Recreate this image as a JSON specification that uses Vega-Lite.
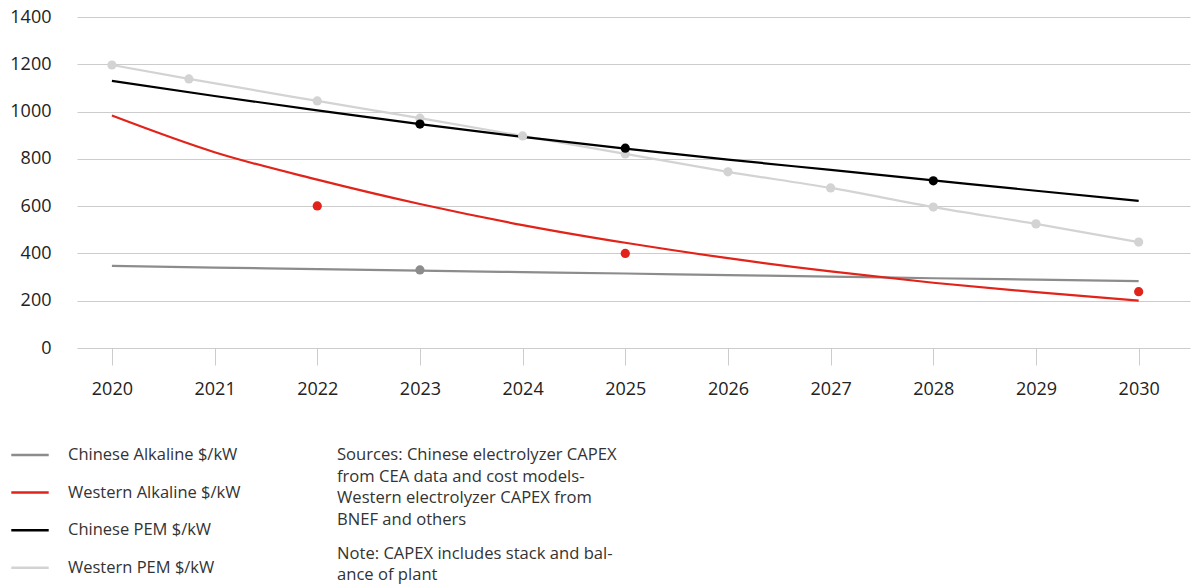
{
  "$schema": "https://vega.github.io/schema/vega-lite/v6.json",
  "width": 1113,
  "height": 331,
  "autosize": {"type": "none"},
  "padding": {"left": 77, "top": 17, "right": 7, "bottom": 238},
  "background": "white",
  "config": {
    "view": {"stroke": null},
    "font": "Open Sans",
    "legend": {"labelFontSize": 16.5, "labelColor": "#333333", "rowPadding": 8.6, "labelOffset": 18, "symbolStrokeWidth": 2.5, "labelLimit": 400}
  },
  "title": {
    "text": ["Sources: Chinese electrolyzer CAPEX", "from CEA data and cost models-", "Western electrolyzer CAPEX from", "BNEF and others"],
    "subtitle": ["Note: CAPEX includes stack and bal-", "ance of plant"],
    "orient": "bottom",
    "anchor": "start",
    "frame": "group",
    "dx": 260,
    "offset": -130,
    "fontSize": 16.6,
    "fontWeight": "normal",
    "color": "#333333",
    "lineHeight": 21.5,
    "baseline": "top",
    "subtitleFontSize": 16.6,
    "subtitleFont": "Open Sans",
    "subtitleFontWeight": "normal",
    "subtitleColor": "#333333",
    "subtitleLineHeight": 21.2,
    "subtitlePadding": 18
  },
  "datasets": {
    "lines": [
      {"series": "Western PEM $/kW", "year": 2020, "value": 1197},
      {"series": "Western PEM $/kW", "year": 2020.75, "value": 1138},
      {"series": "Western PEM $/kW", "year": 2022, "value": 1045},
      {"series": "Western PEM $/kW", "year": 2023, "value": 972},
      {"series": "Western PEM $/kW", "year": 2024, "value": 897},
      {"series": "Western PEM $/kW", "year": 2025, "value": 821},
      {"series": "Western PEM $/kW", "year": 2026, "value": 745},
      {"series": "Western PEM $/kW", "year": 2027, "value": 677},
      {"series": "Western PEM $/kW", "year": 2028, "value": 596},
      {"series": "Western PEM $/kW", "year": 2029, "value": 525},
      {"series": "Western PEM $/kW", "year": 2030, "value": 448},
      {"series": "Chinese Alkaline $/kW", "year": 2020, "value": 347},
      {"series": "Chinese Alkaline $/kW", "year": 2021, "value": 340},
      {"series": "Chinese Alkaline $/kW", "year": 2022, "value": 334},
      {"series": "Chinese Alkaline $/kW", "year": 2023, "value": 327},
      {"series": "Chinese Alkaline $/kW", "year": 2024, "value": 321},
      {"series": "Chinese Alkaline $/kW", "year": 2025, "value": 315},
      {"series": "Chinese Alkaline $/kW", "year": 2026, "value": 308},
      {"series": "Chinese Alkaline $/kW", "year": 2027, "value": 302},
      {"series": "Chinese Alkaline $/kW", "year": 2028, "value": 295},
      {"series": "Chinese Alkaline $/kW", "year": 2029, "value": 289},
      {"series": "Chinese Alkaline $/kW", "year": 2030, "value": 283},
      {"series": "Chinese PEM $/kW", "year": 2020, "value": 1130},
      {"series": "Chinese PEM $/kW", "year": 2021, "value": 1066},
      {"series": "Chinese PEM $/kW", "year": 2022, "value": 1005},
      {"series": "Chinese PEM $/kW", "year": 2023, "value": 947},
      {"series": "Chinese PEM $/kW", "year": 2024, "value": 893},
      {"series": "Chinese PEM $/kW", "year": 2025, "value": 843},
      {"series": "Chinese PEM $/kW", "year": 2026, "value": 797},
      {"series": "Chinese PEM $/kW", "year": 2027, "value": 753},
      {"series": "Chinese PEM $/kW", "year": 2028, "value": 709},
      {"series": "Chinese PEM $/kW", "year": 2029, "value": 665},
      {"series": "Chinese PEM $/kW", "year": 2030, "value": 622},
      {"series": "Western Alkaline $/kW", "year": 2020, "value": 983},
      {"series": "Western Alkaline $/kW", "year": 2021, "value": 828},
      {"series": "Western Alkaline $/kW", "year": 2022, "value": 712},
      {"series": "Western Alkaline $/kW", "year": 2023, "value": 609},
      {"series": "Western Alkaline $/kW", "year": 2024, "value": 520},
      {"series": "Western Alkaline $/kW", "year": 2025, "value": 445},
      {"series": "Western Alkaline $/kW", "year": 2026, "value": 380},
      {"series": "Western Alkaline $/kW", "year": 2027, "value": 324},
      {"series": "Western Alkaline $/kW", "year": 2028, "value": 276},
      {"series": "Western Alkaline $/kW", "year": 2029, "value": 236},
      {"series": "Western Alkaline $/kW", "year": 2030, "value": 200}
    ],
    "points": [
      {"series": "Western PEM $/kW", "year": 2020, "value": 1197},
      {"series": "Western PEM $/kW", "year": 2020.75, "value": 1138},
      {"series": "Western PEM $/kW", "year": 2022, "value": 1045},
      {"series": "Western PEM $/kW", "year": 2023, "value": 972},
      {"series": "Western PEM $/kW", "year": 2024, "value": 897},
      {"series": "Western PEM $/kW", "year": 2025, "value": 821},
      {"series": "Western PEM $/kW", "year": 2026, "value": 745},
      {"series": "Western PEM $/kW", "year": 2027, "value": 677},
      {"series": "Western PEM $/kW", "year": 2028, "value": 596},
      {"series": "Western PEM $/kW", "year": 2029, "value": 525},
      {"series": "Western PEM $/kW", "year": 2030, "value": 448},
      {"series": "Chinese Alkaline $/kW", "year": 2023, "value": 330},
      {"series": "Western Alkaline $/kW", "year": 2022, "value": 601},
      {"series": "Western Alkaline $/kW", "year": 2025, "value": 400},
      {"series": "Western Alkaline $/kW", "year": 2030, "value": 238},
      {"series": "Chinese PEM $/kW", "year": 2023, "value": 947},
      {"series": "Chinese PEM $/kW", "year": 2025, "value": 845},
      {"series": "Chinese PEM $/kW", "year": 2028, "value": 707}
    ]
  },
  "layer": [
    {
      "data": {"name": "lines"},
      "mark": {"type": "line", "strokeWidth": 2.2, "interpolate": "monotone"},
      "encoding": {
        "x": {
          "field": "year", "type": "quantitative",
          "scale": {"domain": [2019.66, 2030.5], "nice": false, "zero": false},
          "axis": {
            "values": [2020, 2021, 2022, 2023, 2024, 2025, 2026, 2027, 2028, 2029, 2030],
            "format": "d", "grid": false, "domain": false,
            "tickSize": 17, "tickColor": "#cccccc", "tickWidth": 1,
            "labelPadding": 15, "labelFontSize": 18, "labelColor": "#222222",
            "labelFlush": false, "title": null
          }
        },
        "y": {
          "field": "value", "type": "quantitative",
          "scale": {"domain": [0, 1400], "nice": false},
          "axis": {
            "values": [0, 200, 400, 600, 800, 1000, 1200, 1400],
            "format": "d",
            "domain": false, "ticks": false, "labelPadding": 26,
            "labelFontSize": 18, "labelColor": "#222222",
            "gridColor": "#cccccc", "gridWidth": 1, "title": null
          }
        },
        "stroke": {
          "field": "series", "type": "nominal",
          "scale": {
            "domain": ["Chinese Alkaline $/kW", "Western Alkaline $/kW", "Chinese PEM $/kW", "Western PEM $/kW"],
            "range": ["#8c8c8c", "#e2231a", "#000000", "#d3d3d3"]
          },
          "legend": {
            "orient": "none", "legendX": -67, "legendY": 418,
            "direction": "vertical", "symbolType": "stroke",
            "symbolSize": 1400, "symbolStrokeWidth": 2.5,
            "labelFontSize": 16.5, "labelOffset": 18, "rowPadding": 8.6,
            "labelLimit": 400,
            "labelColor": "#333333", "title": null
          }
        }
      }
    },
    {
      "data": {"name": "points"},
      "mark": {"type": "circle", "size": 85, "opacity": 1},
      "encoding": {
        "x": {"field": "year", "type": "quantitative"},
        "y": {"field": "value", "type": "quantitative"},
        "fill": {
          "field": "series", "type": "nominal",
          "scale": {
            "domain": ["Chinese Alkaline $/kW", "Western Alkaline $/kW", "Chinese PEM $/kW", "Western PEM $/kW"],
            "range": ["#8c8c8c", "#e2231a", "#000000", "#d3d3d3"]
          },
          "legend": null
        }
      }
    }
  ]
}
